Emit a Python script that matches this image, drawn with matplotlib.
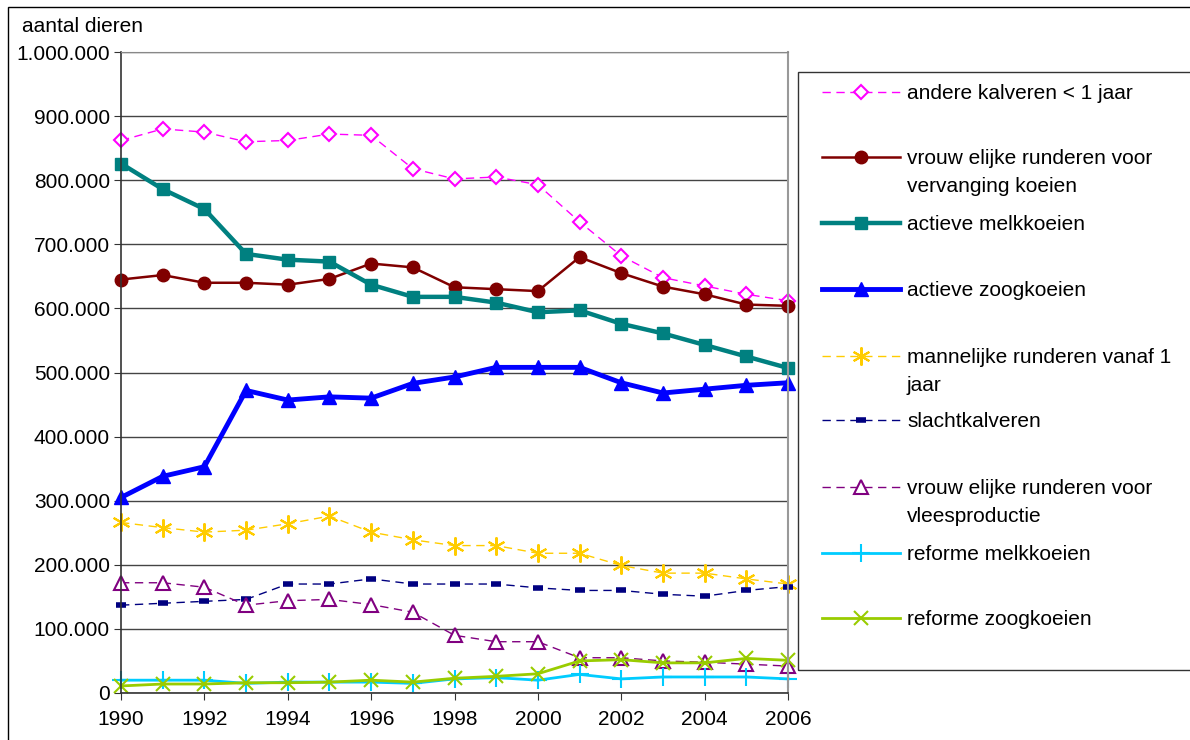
import matplotlib.pyplot as plt
from matplotlib.lines import Line2D
from matplotlib.patches import Rectangle
from matplotlib.ticker import FuncFormatter

plt.rcParams['font.family'] = ['Liberation Sans', 'DejaVu Sans']

years = list(range(1990, 2007))

# values in thousands of animals
andere_kalveren = [862, 880, 875, 860, 862, 872, 870, 818, 802, 805, 793, 735, 682, 648, 635, 622, 612]
vrouw_vervanging = [645, 652, 640, 640, 637, 646, 670, 664, 633, 630, 627, 680, 655, 634, 622, 606, 604]
melkkoeien = [826, 786, 755, 685, 676, 673, 637, 618, 618, 609, 594, 597, 576, 561, 543, 525, 507]
zoogkoeien = [305, 338, 353, 472, 457, 462, 460, 483, 493, 508, 508, 508, 484, 468, 474, 480, 484]
mannelijk = [266, 258, 251, 254, 264, 276, 251, 239, 230, 230, 218, 218, 199, 187, 187, 178, 170]
slachtkalveren = [137, 140, 143, 146, 170, 170, 178, 170, 170, 170, 164, 160, 160, 154, 151, 160, 166]
vrouw_vlees = [172, 172, 165, 137, 144, 146, 138, 126, 90, 80, 80, 55, 55, 50, 48, 45, 42]
reforme_melk = [20, 20, 20, 15, 17, 17, 17, 15, 22, 24, 20, 29, 22, 25, 25, 25, 22]
reforme_zoog = [11, 14, 14, 16, 16, 17, 20, 17, 23, 26, 30, 50, 52, 47, 47, 54, 51]

labels = ['andere kalveren < 1 jaar',
          'vrouw elijke runderen voor\nvervanging koeien',
          'actieve melkkoeien',
          'actieve zoogkoeien',
          'mannelijke runderen vanaf 1\njaar',
          'slachtkalveren',
          'vrouw elijke runderen voor\nvleesproductie',
          'reforme melkkoeien',
          'reforme zoogkoeien']

W, H = 1190, 740
fig = plt.figure(figsize=(W / 100, H / 100), dpi=100)


def fx(px):
    return px / W


def fy(py):
    return 1 - py / H


ax = fig.add_axes([fx(121), fy(693), fx(788) - fx(121), fy(52) - fy(693)])

dash = (6, 4)
styles = [
    dict(color='#FF00FF', lw=1, dashes=dash, marker='D', ms=7, mfc='white', mec='#FF00FF', mew=1.5),
    dict(color='#800000', lw=1.8, marker='o', ms=9),
    dict(color='#008080', lw=3.2, marker='s', ms=9),
    dict(color='#0000FF', lw=3.5, marker='^', ms=10),
    dict(color='#FFCC00', lw=1, dashes=dash, marker=(6, 2, 0), ms=13, mew=1.5),
    dict(color='#000080', lw=1, dashes=dash, marker='_', ms=7, mew=4),
    dict(color='#800080', lw=1, dashes=dash, marker='^', ms=10, mfc='white', mec='#800080', mew=1.5),
    dict(color='#00CCFF', lw=2, marker='+', ms=13, mew=1.5),
    dict(color='#99CC00', lw=2, marker='x', ms=10, mew=1.5),
]
series = [andere_kalveren, vrouw_vervanging, melkkoeien, zoogkoeien, mannelijk,
          slachtkalveren, vrouw_vlees, reforme_melk, reforme_zoog]

for vals, st in zip(series, styles):
    ax.plot(years, [v * 1000 for v in vals], clip_on=False, **st)

ax.set_xlim(1990, 2006)
ax.set_ylim(0, 1000000)
ax.set_xticks(range(1990, 2007, 2))
ax.set_yticks(range(0, 1000001, 100000))
ax.yaxis.set_major_formatter(FuncFormatter(lambda v, p: f'{v:,.0f}'.replace(',', '.')))
ax.tick_params(labelsize=15, length=5, color='#333333')
ax.tick_params(axis='y', pad=3)
ax.tick_params(axis='x', pad=7)
ax.grid(axis='y', color='#444444', lw=1)
ax.set_axisbelow(True)
for s in ['left', 'bottom']:
    ax.spines[s].set_color('#333333')
    ax.spines[s].set_linewidth(1.2)
ax.spines['top'].set_color('#888888')
ax.spines['right'].set_color('#999999')
ax.spines['right'].set_linewidth(1.5)

fig.text(fx(22), fy(27), 'aantal dieren', fontsize=15, va='center', ha='left')

# outer border
fig.add_artist(Rectangle((fx(8), fy(745)), fx(1200) - fx(8), fy(7) - fy(745),
                         transform=fig.transFigure, fill=False, ec='black', lw=1))

# legend box drawn by hand to follow the Excel spacing
fig.add_artist(Rectangle((fx(798), fy(670)), fx(1200) - fx(798), fy(72) - fy(670),
                         transform=fig.transFigure, fill=False, ec='#333333', lw=1))
leg_y = [92, 157, 223, 289, 356, 420, 487, 553, 618]
for lab, st, yy in zip(labels, styles, leg_y):
    ln = Line2D([fx(822), fx(861), fx(900)], [fy(yy)] * 3, transform=fig.transFigure,
                markevery=[1], **st)
    fig.add_artist(ln)
    fig.text(fx(907), fy(yy - 8), lab, fontsize=15, va='top', ha='left',
             linespacing=1.6)

fig.savefig('out.png', dpi=100)
